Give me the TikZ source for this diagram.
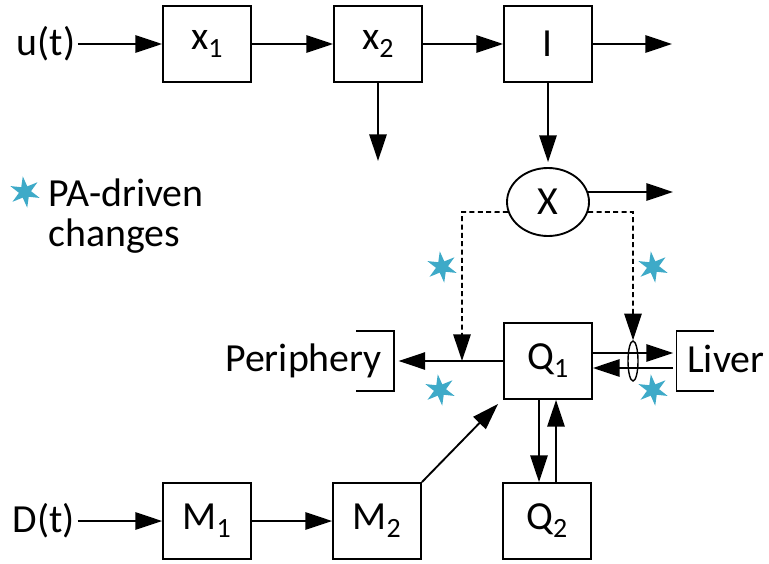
\documentclass[tikz,border=0pt]{standalone}
\usepackage{fontspec}
\setmainfont{Carlito}
\usetikzlibrary{arrows.meta,positioning,shapes.geometric}
\definecolor{pacolor}{RGB}{62,170,200}
\tikzset{
  blk/.style={draw, line width=1.6pt, minimum width=2.64cm, minimum height=2.28cm, inner sep=0pt},
  arr/.style={-{Triangle[length=0.8cm,width=0.52cm]}, line width=1.6pt},
  dsh/.style={arr, line width=1.5pt, dash pattern=on 0.15cm off 0.1cm},
  pastar/.style={star, star points=6, star point ratio=2.6, fill=pacolor, minimum size=0.95cm, inner sep=0pt, rotate=8},
  brk/.style={minimum width=1.1cm, minimum height=1.8cm, inner sep=0pt}
}

\begin{document}
\begin{tikzpicture}[x=0.03cm, y=-0.03cm, every node/.style={font=\fontsize{34}{34}\selectfont, inner sep=2pt}]
    \useasboundingbox (0,0) rectangle (769,563);
    % Top row: u(t) -> x1 -> x2 -> I
    \node (ut) at (46,44) {u(t)};
    \node[blk] (xa) at (207,44) {x\textsubscript{1}};
    \node[blk] (xb) at (378,44) {x\textsubscript{2}};
    \node[blk] (ins) at (548,44) {I};
    \coordinate (iout) at (672,44);
    \coordinate (xbout) at (378,161);
    \draw[arr] (ut) -- (xa);
    \draw[arr] (xa) -- (xb);
    \draw[arr] (xb) -- (ins);
    \draw[arr] (ins) -- (iout);
    \draw[arr] (xb) -- (xbout);
    % Insulin action X
    \node[draw, ellipse, line width=1.6pt, minimum width=2.46cm, minimum height=2.04cm, inner sep=0pt] (xe) at (548,202) {X};
    \coordinate (xout) at (673,192);
    \draw[arr, shorten >=0.15cm] (ins) -- (xe);
    \draw[arr] (xe.14) -- (xout);
    % Legend
    \node[anchor=west, align=left] (leg) at (46,216) {PA-driven\\changes};
    % Glucose compartments
    \node[blk] (q1) at (548,361) {Q\textsubscript{1}};
    \node[blk] (q2) at (547,521) {Q\textsubscript{2}};
    \node[brk] (pbr) at (375,361) {};
    \node[brk] (lbr) at (695,361) {};
    \node[anchor=base east, inner sep=0pt] (peri) at (382,371) {Periphery};
    \node[anchor=base west, inner sep=0pt] (liver) at (687,372) {Liver};
    \draw[line width=1.6pt] (pbr.north west) -- (pbr.north east) -- (pbr.south east) -- (pbr.south west);
    \draw[line width=1.6pt] (lbr.north east) -- (lbr.north west) -- (lbr.south west) -- (lbr.south east);
    \node[draw, ellipse, line width=1.2pt, minimum width=0.3cm, minimum height=1.2cm, inner sep=0pt] (ov) at (633,361) {};
    \draw[arr, shorten >=0.15cm] (q1.west) -- (q1.west -| pbr.east);
    \draw[arr, shorten >=0.1cm] ([yshift=0.24cm]q1.east) -- ([yshift=0.24cm]lbr.west);
    \draw[arr, shorten <=0.1cm] ([yshift=-0.21cm]lbr.west) -- ([yshift=-0.21cm]q1.east);
    \draw[arr] ([xshift=-0.27cm]q1.south) -- ([xshift=-0.24cm]q2.north);
    \draw[arr] ([xshift=0.27cm]q2.north) -- ([xshift=0.24cm]q1.south);
    % Dashed effect of X
    \coordinate (dl) at (462,212);
    \coordinate (dr) at (633,212);
    \draw[dsh] (xe.194) -- (dl) -- (dl |- q1.west);
    \draw[dsh] (xe.346) -- (dr) -- (ov.north);
    % Bottom row: D(t) -> M1 -> M2 -> Q1
    \node (dt) at (44,521) {D(t)};
    \node[blk] (ma) at (207,521) {M\textsubscript{1}};
    \node[blk] (mb) at (377,521) {M\textsubscript{2}};
    \draw[arr] (dt) -- (ma);
    \draw[arr] (ma) -- (mb);
    \draw[arr] (mb.north east) -- ([xshift=-0.15cm,yshift=-0.12cm]q1.south west);
    % PA-driven stars
    \foreach \sx/\sy/\sn in {25/192/0, 442/267/1, 653/267/2, 440/390/3, 653/390/4} {
      \node[pastar] (st\sn) at (\sx,\sy) {};
    }
\end{tikzpicture}
\end{document}
